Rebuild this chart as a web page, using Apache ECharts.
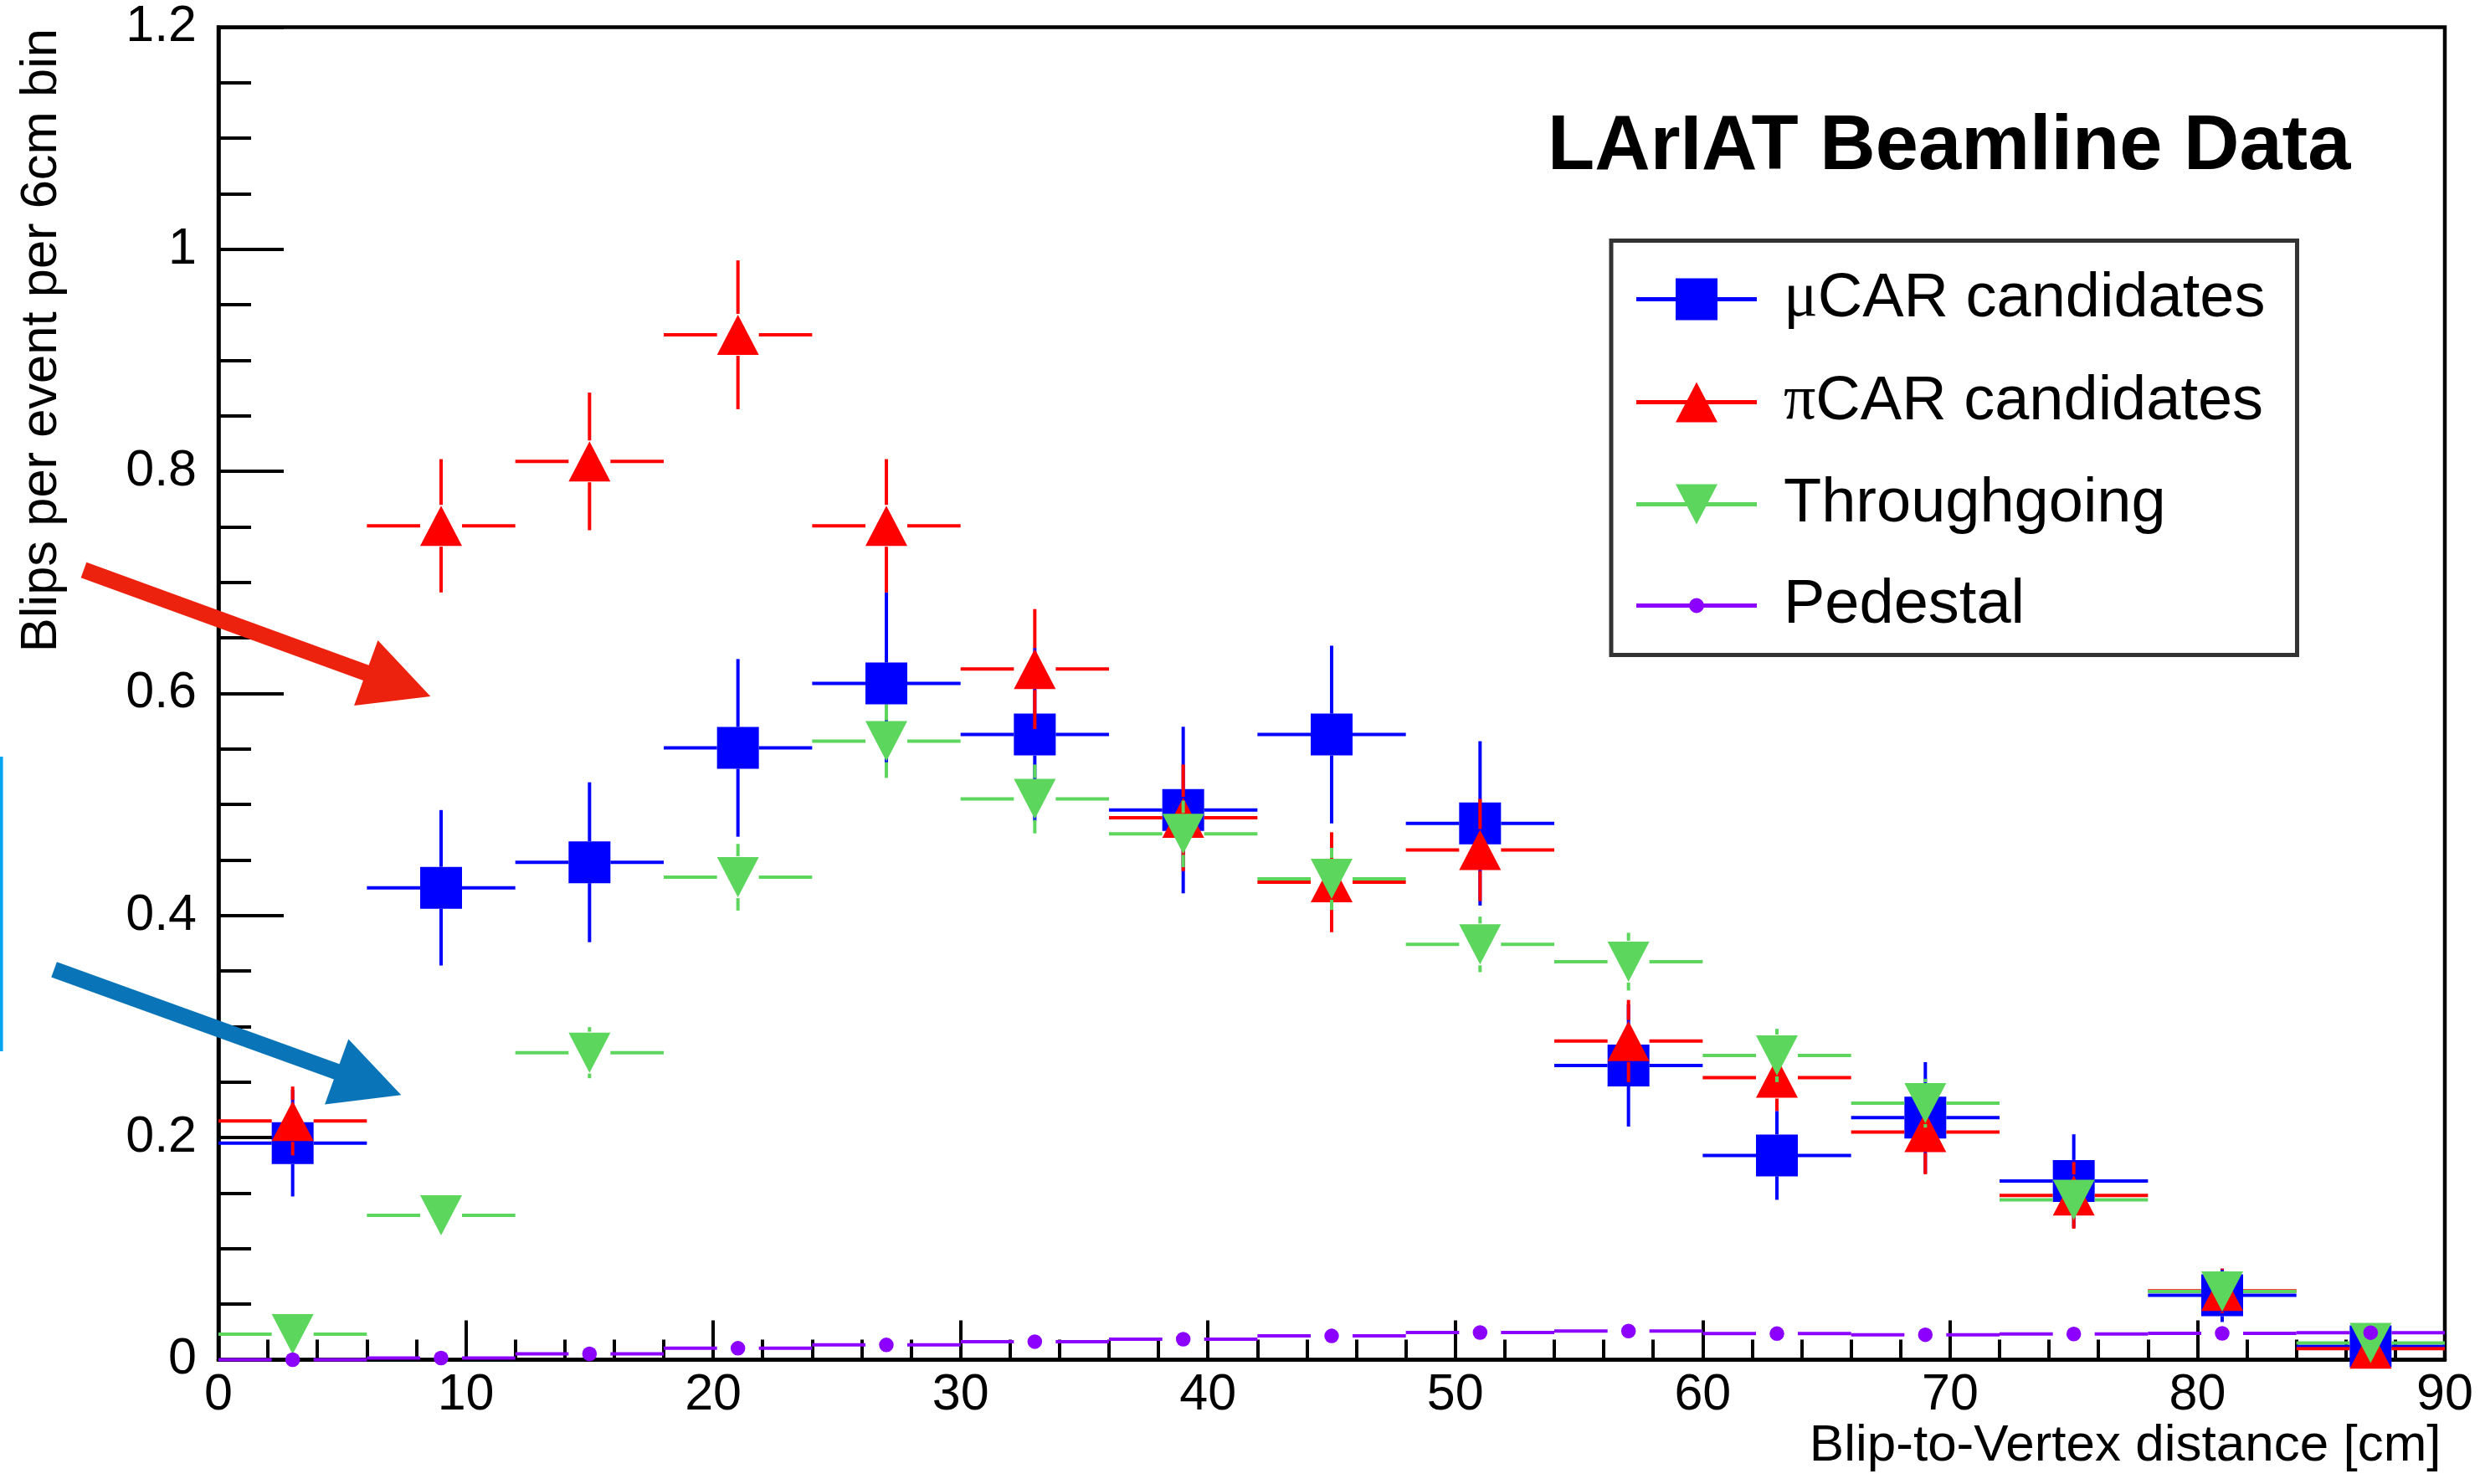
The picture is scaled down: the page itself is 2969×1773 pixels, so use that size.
<!DOCTYPE html>
<html>
<head>
<meta charset="utf-8">
<title>LArIAT blip-to-vertex distance</title>
<script src="https://cdn.jsdelivr.net/npm/echarts@6/dist/echarts.min.js"></script>
<style>
  html, body { margin: 0; padding: 0; background: #ffffff; }
  #chart { width: 2969px; height: 1773px; }
</style>
</head>
<body>
<div id="chart"></div>
<script>
// Distance bins: 6 cm wide, values given at the bin centres [cm]
const BIN_WIDTH = 6;
const binCenters = [3, 9, 15, 21, 27, 33, 39, 45, 51, 57, 63, 69, 75, 81, 87];

// Blips per event per bin, with statistical errors
const muCarValues = [0.195, 0.425, 0.448, 0.551, 0.609, 0.563, 0.495, 0.563, 0.483, 0.265, 0.184, 0.218, 0.161, 0.058, 0.012];
const muCarErrors = [0.048, 0.070, 0.072, 0.080, 0.082, 0.078, 0.075, 0.080, 0.074, 0.055, 0.040, 0.050, 0.042, 0.024, 0.010];

const piCarValues = [0.215, 0.751, 0.809, 0.923, 0.751, 0.622, 0.488, 0.430, 0.459, 0.287, 0.254, 0.205, 0.148, 0.062, 0.010];
const piCarErrors = [0.031, 0.060, 0.062, 0.067, 0.060, 0.054, 0.048, 0.045, 0.046, 0.037, 0.030, 0.038, 0.030, 0.020, 0.008];

const throughValues = [0.023, 0.130, 0.2765, 0.4345, 0.557, 0.505, 0.4735, 0.433, 0.374, 0.3585, 0.274, 0.231, 0.144, 0.0615, 0.015];
const throughErrors = [0.005, 0.010, 0.023, 0.030, 0.033, 0.031, 0.030, 0.028, 0.025, 0.026, 0.024, 0.022, 0.018, 0.012, 0.006];

const pedestalValues = [0.000, 0.0015, 0.0053, 0.0103, 0.0133, 0.0163, 0.0185, 0.0214, 0.0245, 0.0258, 0.0235, 0.0225, 0.0232, 0.0237, 0.0244];
const pedestalErrors = [0.001, 0.001, 0.001, 0.001, 0.001, 0.001, 0.001, 0.001, 0.001, 0.001, 0.001, 0.001, 0.001, 0.001, 0.001];

const seriesNames = ['\u03bcCAR candidates', '\u03c0CAR candidates', 'Throughgoing', 'Pedestal'];
const seriesColors = ['#0000ff', '#ff0000', '#5cd65c', '#8b00ff'];

const FONT = '"Liberation Sans", Arial, Helvetica, sans-serif';
const GREEK_FONT = '"Liberation Serif", "DejaVu Serif", serif';

function toPoints(values, errors) {
  return binCenters.map((x, i) => [x, values[i], errors[i]]);
}

// Half size of the marker box; error bars stop at its edge
const GAP = 25;

function markerShape(kind, cx, cy, color) {
  const style = { fill: color };
  if (kind === 'square') {
    return { type: 'rect', shape: { x: cx - 25, y: cy - 25, width: 50, height: 50 }, style };
  }
  if (kind === 'triangle') {
    return { type: 'polygon', shape: { points: [[cx, cy - 24], [cx + 25, cy + 24], [cx - 25, cy + 24]] }, style };
  }
  if (kind === 'triangleDown') {
    return { type: 'polygon', shape: { points: [[cx - 25, cy - 24], [cx + 25, cy - 24], [cx, cy + 24]] }, style };
  }
  return { type: 'circle', shape: { cx, cy, r: 8.75 }, style };
}

// Histogram point: horizontal bar over the bin, vertical error bar, marker
function errorPointRenderer(kind) {
  return function (params, api) {
    const x = api.value(0), y = api.value(1), err = api.value(2);
    const c = api.coord([x, y]);
    const left = api.coord([x - BIN_WIDTH / 2, y])[0];
    const right = api.coord([x + BIN_WIDTH / 2, y])[0];
    const top = api.coord([x, y + err])[1];
    const bottom = api.coord([x, y - err])[1];
    const color = api.visual('color');
    const stroke = { stroke: color, lineWidth: 4 };
    const children = [];
    if (left < c[0] - GAP) children.push({ type: 'line', shape: { x1: left, y1: c[1], x2: c[0] - GAP, y2: c[1] }, style: stroke });
    if (right > c[0] + GAP) children.push({ type: 'line', shape: { x1: c[0] + GAP, y1: c[1], x2: right, y2: c[1] }, style: stroke });
    if (top < c[1] - GAP) children.push({ type: 'line', shape: { x1: c[0], y1: top, x2: c[0], y2: c[1] - GAP }, style: stroke });
    if (bottom > c[1] + GAP) children.push({ type: 'line', shape: { x1: c[0], y1: c[1] + GAP, x2: c[0], y2: bottom }, style: stroke });
    children.push(markerShape(kind, c[0], c[1], color));
    return { type: 'group', children };
  };
}

function makeSeries(idx, kind, values, errors) {
  return {
    type: 'custom',
    name: seriesNames[idx],
    coordinateSystem: 'cartesian2d',
    data: toPoints(values, errors),
    encode: { x: 0, y: 1 },
    itemStyle: { color: seriesColors[idx] },
    renderItem: errorPointRenderer(kind),
    clip: false,
    z: 3
  };
}

// Legend icons: line sample with the marker in the middle
const LINE = 'M0,22.5L144,22.5L144,27.5L0,27.5Z';
const legendIcons = [
  'path://' + LINE + 'M47,0L97,0L97,50L47,50Z',
  'path://' + LINE + 'M72,1L97,49L47,49Z',
  'path://' + LINE + 'M47,1L97,1L72,49Z',
  'path://' + LINE + 'M81,25A9,9 0 1 1 63,25A9,9 0 1 1 81,25Z'
];

// Annotation arrow as a filled polygon
function arrowPolygon(tail, tip, shaft, headLen, headHalf) {
  const dx = tip[0] - tail[0], dy = tip[1] - tail[1];
  const len = Math.hypot(dx, dy);
  const ux = dx / len, uy = dy / len, nx = -uy, ny = ux;
  const bx = tip[0] - ux * headLen, by = tip[1] - uy * headLen;
  const s = shaft / 2;
  return [
    [tail[0] + nx * s, tail[1] + ny * s],
    [bx + nx * s, by + ny * s],
    [bx + nx * headHalf, by + ny * headHalf],
    tip,
    [bx - nx * headHalf, by - ny * headHalf],
    [bx - nx * s, by - ny * s],
    [tail[0] - nx * s, tail[1] - ny * s]
  ];
}

const chart = echarts.init(document.getElementById('chart'), null, { renderer: 'canvas' });

chart.setOption({
  animation: false,
  backgroundColor: '#ffffff',
  title: {
    text: 'LArIAT Beamline Data',
    left: 1849,
    top: 131,
    padding: 0,
    textStyle: { fontFamily: FONT, fontWeight: 'bold', fontSize: 92, lineHeight: 92, color: '#000' }
  },
  grid: {
    left: 261, right: 48, top: 32.5, bottom: 148.5,
    show: true,
    borderColor: '#000',
    borderWidth: 4.5,
    backgroundColor: 'transparent',
    containLabel: false,
    outerBoundsMode: 'none'
  },
  legend: {
    orient: 'vertical',
    left: 1925,
    top: 287.5,
    padding: [32, 38, 22, 30],
    itemGap: 47,
    itemWidth: 144,
    itemHeight: 50,
    selectedMode: false,
    backgroundColor: '#ffffff',
    borderColor: '#333333',
    borderWidth: 5,
    data: seriesNames.map((n, i) => ({ name: n, icon: legendIcons[i] })),
    formatter: (name) => name.replace(/^([\u03bc\u03c0])/, '{g|$1}'),
    textStyle: {
      fontFamily: FONT, fontSize: 74, lineHeight: 72, color: '#000',
      padding: [0, 0, 0, 27],
      rich: { g: { fontFamily: GREEK_FONT, fontSize: 76, lineHeight: 72, color: '#000' } }
    }
  },
  xAxis: {
    type: 'value',
    min: 0, max: 90, interval: 10,
    axisLine: { show: true, onZero: false, lineStyle: { color: '#000', width: 4.5 } },
    axisTick: { show: true, inside: true, length: 47, lineStyle: { color: '#000', width: 4 } },
    minorTick: { show: true, splitNumber: 5, length: 24, lineStyle: { color: '#000', width: 4 } },
    splitLine: { show: false },
    minorSplitLine: { show: false },
    axisLabel: { color: '#000', fontFamily: FONT, fontSize: 61, margin: 12 }
  },
  yAxis: {
    type: 'value',
    min: 0, max: 1.2, interval: 0.2,
    axisLine: { show: true, onZero: false, lineStyle: { color: '#000', width: 4.5 } },
    axisTick: { show: true, inside: true, length: 78, lineStyle: { color: '#000', width: 4 } },
    minorTick: { show: true, splitNumber: 4, length: 39, lineStyle: { color: '#000', width: 4 } },
    splitLine: { show: false },
    minorSplitLine: { show: false },
    axisLabel: { color: '#000', fontFamily: FONT, fontSize: 61, margin: 26 }
  },
  series: [
    makeSeries(0, 'square', muCarValues, muCarErrors),
    makeSeries(1, 'triangle', piCarValues, piCarErrors),
    makeSeries(2, 'triangleDown', throughValues, throughErrors),
    makeSeries(3, 'dot', pedestalValues, pedestalErrors)
  ],
  graphic: [
    {
      type: 'text', x: 2916.5, y: 1727.5, z: 50,
      style: { text: 'Blip-to-Vertex distance [cm]', font: '62px ' + FONT, fill: '#000', align: 'right', verticalAlign: 'middle' }
    },
    {
      type: 'text', x: 50.1, y: 34, rotation: Math.PI / 2, z: 50,
      style: { text: 'Blips per event per 6cm bin', font: '61.5px ' + FONT, fill: '#000', align: 'right', verticalAlign: 'middle' }
    },
    {
      type: 'polygon', z: 100,
      shape: { points: arrowPolygon([100, 681], [514.3, 832], 19.5, 82, 41.5) },
      style: { fill: '#ed220e' }
    },
    {
      type: 'polygon', z: 100,
      shape: { points: arrowPolygon([64.6, 1158.3], [479.3, 1308.3], 19.5, 82, 41.5) },
      style: { fill: '#0a74b8' }
    },
    {
      type: 'rect', z: 100,
      shape: { x: 0, y: 904, width: 3.6, height: 352 },
      style: { fill: '#04a5f0' }
    }
  ]
});
</script>
</body>
</html>
